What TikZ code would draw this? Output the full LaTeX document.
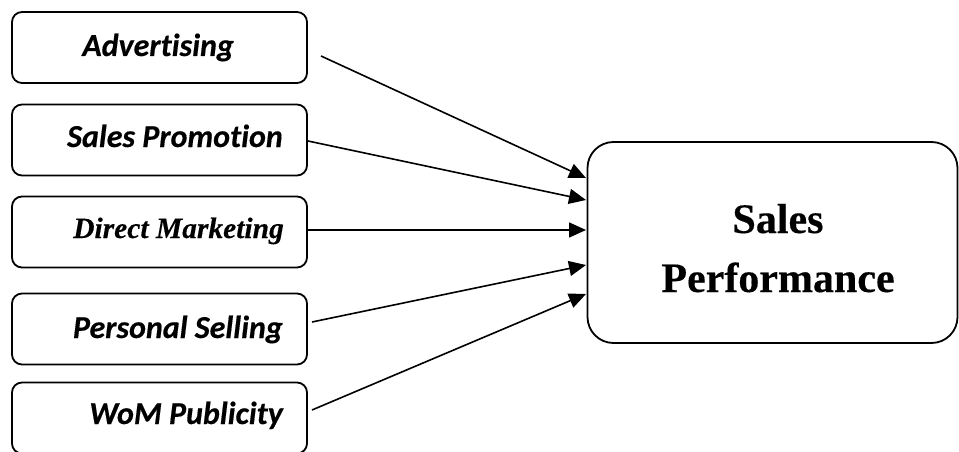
\documentclass[tikz,border=0pt]{standalone}
\usepackage{fontspec}
\setmainfont{Liberation Serif}
\newfontfamily\calib[Ligatures=NoCommon,FakeBold=0.4]{Carlito}
\newfontfamily\tms[FakeBold=0.3]{Liberation Serif}
\usetikzlibrary{arrows.meta}
\begin{document}
\begin{tikzpicture}[x=1pt,y=-1pt,
  smallbox/.style={draw,line width=1.8pt,rounded corners=10pt,minimum width=295pt,minimum height=71pt,inner sep=0pt},
  bigbox/.style={draw,line width=1.8pt,rounded corners=26pt,minimum width=370pt,minimum height=201pt,inner sep=0pt},
  lbl/.style={font=\calib\fontsize{32}{36}\selectfont\bfseries\itshape,inner sep=0pt,anchor=base east},
  conn/.style={line width=1.6pt,-{Triangle[length=17pt,width=15pt]}}]
\useasboundingbox (0,0) rectangle (959,452);
\node[smallbox] (b1) at (159.5,47.5) {};
\node[smallbox] (b2) at (159.5,140) {};
\node[smallbox] (b3) at (159.5,232) {};
\node[smallbox] (b4) at (159.5,329) {};
\node[smallbox] (b5) at (159.5,418) {};
\node[bigbox] (sp) at (772.5,242.5) {};
\node[lbl] (t1) at (234,56) {Advertising};
\node[lbl] (t2) at (283,147) {Sales Promotion};
\node[font=\tms\fontsize{29.5}{34}\selectfont\bfseries\itshape,inner sep=0pt,anchor=base east] (t3) at (284,238) {Direct Marketing};
\node[lbl] (t4) at (283,338) {Personal Selling};
\node[lbl] (t5) at (283,424) {WoM Publicity};
\node[font=\tms\fontsize{42}{59}\selectfont\bfseries,inner sep=0pt,anchor=base] (s1) at (778,233) {Sales};
\node[font=\tms\fontsize{42}{59}\selectfont\bfseries,inner sep=0pt,anchor=base] (s2) at (778,292) {Performance};
\coordinate (a1s) at (321,56);
\coordinate (a1e) at (586,178);
\coordinate (a2s) at (308,141);
\coordinate (a2e) at (586,200);
\coordinate (a3s) at (308,230);
\coordinate (a3e) at (586,230);
\coordinate (a4s) at (312,322);
\coordinate (a4e) at (586,265);
\coordinate (a5s) at (312,410);
\coordinate (a5e) at (586,294);
\draw[conn] (a1s) -- (a1e);
\draw[conn] (a2s) -- (a2e);
\draw[conn] (a3s) -- (a3e);
\draw[conn] (a4s) -- (a4e);
\draw[conn] (a5s) -- (a5e);
\end{tikzpicture}
\end{document}
